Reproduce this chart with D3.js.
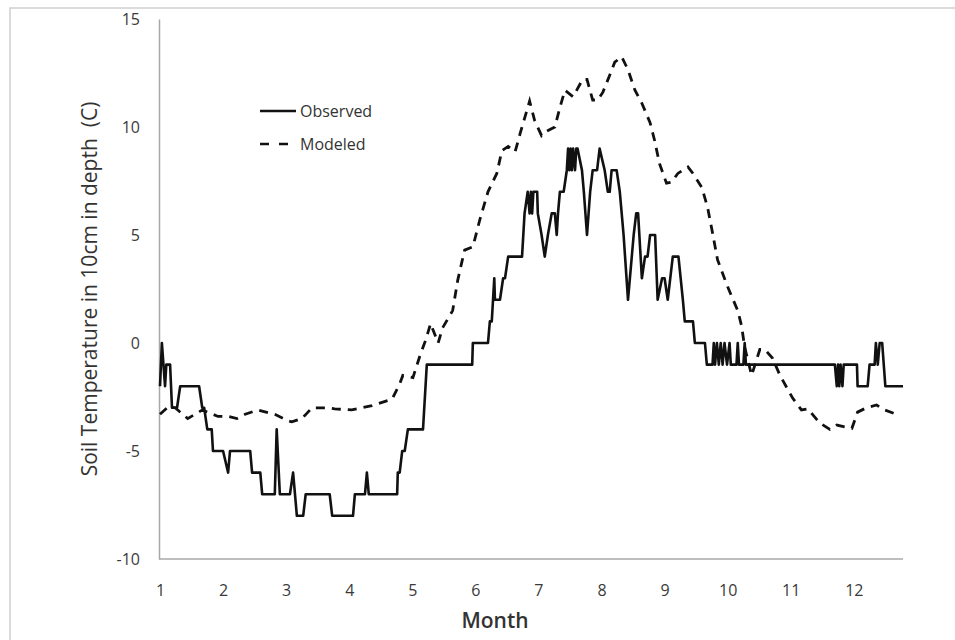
<!DOCTYPE html>
<html>

<head>
    <meta charset="utf-8">
    <script src="https://d3js.org/d3.v7.min.js"></script>
    <style>
        body { margin: 0; background: white; }
        text { font-family: "Open Sans", sans-serif; }
    </style>
</head>

<body>
    <svg width="955" height="640"></svg>

    <script>
    // axis ticks
    var monthTicks = [1, 2, 3, 4, 5, 6, 7, 8, 9, 10, 11, 12];
    var tempTicks = [-10, -5, 0, 5, 10, 15];

    // observed soil temperature (step data, whole degrees)
    var obsMonth = [1.00, 1.03, 1.08, 1.10, 1.16, 1.19, 1.27, 1.32, 1.62, 1.67, 1.70, 1.75, 1.82, 1.84, 2.00, 2.08, 2.11, 2.43,
        2.46, 2.59, 2.62, 2.82, 2.85, 2.90, 3.06, 3.11, 3.14, 3.17, 3.27, 3.31, 3.69, 3.73, 4.06, 4.09, 4.25, 4.28, 4.31,
        4.76, 4.77, 4.80, 4.84, 4.88, 4.93, 5.17, 5.23, 5.95, 5.96, 6.20, 6.23, 6.26, 6.28, 6.30, 6.31, 6.39, 6.44, 6.47,
        6.52, 6.74, 6.78, 6.83, 6.86, 6.88, 6.90, 6.92, 6.98, 6.99, 7.05, 7.10, 7.15, 7.21, 7.26, 7.29, 7.31, 7.34, 7.40,
        7.45, 7.47, 7.49, 7.51, 7.53, 7.55, 7.58, 7.60, 7.62, 7.69, 7.72, 7.77, 7.82, 7.86, 7.93, 7.97, 8.05, 8.10, 8.13,
        8.16, 8.24, 8.29, 8.32, 8.35, 8.42, 8.48, 8.51, 8.55, 8.58, 8.64, 8.69, 8.73, 8.77, 8.85, 8.89, 8.96, 9.00, 9.05,
        9.13, 9.22, 9.29, 9.32, 9.45, 9.48, 9.64, 9.67, 9.76, 9.78, 9.80, 9.83, 9.86, 9.89, 9.92, 9.95, 9.99, 10.03, 10.05,
        10.14, 10.16, 10.18, 10.25, 10.27, 10.29, 11.70, 11.73, 11.75, 11.77, 11.79, 11.82, 11.84, 12.05, 12.06, 12.22,
        12.25, 12.33, 12.35, 12.38, 12.41, 12.45, 12.50, 12.78];
    var obsTemp = [-2, 0, -2, -1, -1, -3, -3, -2, -2, -3, -3, -4, -4, -5, -5, -6, -5, -5,
        -6, -6, -7, -7, -4, -7, -7, -6, -7, -8, -8, -7, -7, -8, -8, -7, -7, -6, -7,
        -7, -6, -6, -5, -5, -4, -4, -1, -1, 0, 0, 1, 1, 2, 3, 2, 2, 3, 3,
        4, 4, 6, 7, 6, 7, 6, 7, 7, 6, 5, 4, 5, 6, 6, 5, 6, 7, 7,
        8, 9, 8, 9, 8, 9, 8, 9, 9, 8, 7, 5, 7, 8, 8, 9, 8, 7, 7,
        8, 8, 7, 6, 5, 2, 4, 5, 6, 6, 3, 4, 4, 5, 5, 2, 3, 3, 2,
        4, 4, 2, 1, 1, 0, 0, -1, -1, 0, -1, 0, -1, 0, -1, 0, -1, 0, -1,
        -1, 0, -1, -1, 0, -1, -1, -2, -1, -2, -1, -2, -1, -1, -2, -2,
        -1, -1, 0, -1, 0, 0, -2, -2];

    // modeled soil temperature
    var modMonth = [1.00, 1.13, 1.24, 1.44, 1.67, 1.92, 2.08, 2.22, 2.35, 2.55, 2.82, 3.03, 3.09, 3.25, 3.41, 3.66, 3.77,
        4.04, 4.36, 4.68, 4.80, 4.85, 5.01, 5.12, 5.22, 5.29, 5.41, 5.48, 5.64, 5.72, 5.79, 5.83, 5.96, 6.07, 6.20, 6.34,
        6.42, 6.52, 6.63, 6.71, 6.82, 6.86, 6.94, 7.05, 7.13, 7.26, 7.34, 7.42, 7.55, 7.70, 7.77, 7.86, 7.94, 8.02, 8.13,
        8.21, 8.32, 8.42, 8.53, 8.64, 8.77, 8.84, 8.92, 9.03, 9.11, 9.21, 9.37, 9.45, 9.59, 9.68, 9.76, 9.84, 10.00, 10.16,
        10.22, 10.27, 10.38, 10.51, 10.59, 10.71, 10.83, 11.03, 11.17, 11.27, 11.46, 11.62, 11.73, 11.89, 11.97, 12.06,
        12.20, 12.36, 12.49, 12.70];
    var modTemp = [-3.3, -2.95, -3.0, -3.5, -3.1, -3.4, -3.4, -3.5, -3.3, -3.1, -3.3, -3.6, -3.65, -3.5, -3.0, -3.0, -3.05,
        -3.1, -2.9, -2.6, -1.9, -1.5, -1.6, -0.6, 0.2, 0.9, 0.0, 0.7, 1.5, 2.9, 3.8, 4.3, 4.45, 5.7, 7.0, 7.85,
        8.9, 9.1, 8.85, 9.7, 10.8, 11.2, 10.3, 9.6, 9.8, 10.0, 10.9, 11.7, 11.4, 12.2, 12.2, 11.25, 11.25, 11.6, 12.4,
        13.0, 13.25, 12.65, 11.7, 11.1, 10.2, 9.4, 8.3, 7.4, 7.45, 7.85, 8.15, 7.85, 7.2, 6.3, 5.1, 3.85, 2.6, 1.5,
        0.8, -0.2, -1.5, -0.3, -0.3, -0.7, -1.5, -2.55, -3.1, -3.05, -3.7, -4.0, -3.8, -3.9, -3.95, -3.2,
        -3.0, -2.87, -3.1, -3.33];

    var seriesNames = ["Observed", "Modeled"];

    var observed = obsMonth.map(function(m, i){ return [m, obsTemp[i]]; });
    var modeled = modMonth.map(function(m, i){ return [m, modTemp[i]]; });

    var mySVG = d3.select("svg");

    // light frame around the figure
    mySVG.append("rect")
        .attr("x", 10).attr("y", 8).attr("width", 960).attr("height", 650)
        .attr("fill", "none").attr("stroke", "#cfcfcf").attr("stroke-width", 1.5);

    var x = d3.scaleLinear().domain([1, 12.78]).range([160, 903]);
    var y = d3.scaleLinear().domain([-10, 15]).range([559, 19]);

    // axes: plain gray lines, no tick marks, plain hyphen for negatives
    var xAxis = mySVG.append("g").attr("transform", "translate(0,559)")
        .call(d3.axisBottom(x).tickValues(monthTicks).tickSize(0).tickPadding(26).tickFormat(function(d){ return String(d); }));
    xAxis.select(".domain").attr("d", "M159,0H903").attr("stroke", "#a8a8a8").attr("stroke-width", 1.5);

    var yAxis = mySVG.append("g").attr("transform", "translate(159,0)")
        .call(d3.axisLeft(y).tickValues(tempTicks).tickSize(0).tickPadding(19).tickFormat(function(d){ return String(d); }));
    yAxis.select(".domain").attr("stroke", "#a8a8a8").attr("stroke-width", 1.5);

    mySVG.selectAll(".tick text")
        .attr("font-size", 16).attr("fill", "#3a3a3a").attr("font-family", "Open Sans, sans-serif");

    // axis titles
    mySVG.append("text")
        .attr("x", 495).attr("y", 628)
        .attr("text-anchor", "middle")
        .attr("font-size", 21).attr("font-weight", 600).attr("fill", "#333")
        .text("Month");

    mySVG.append("text")
        .attr("transform", "translate(97,289) rotate(-90)")
        .attr("text-anchor", "middle")
        .style("white-space", "pre")
        .attr("font-size", 21).attr("fill", "#333")
        .text("Soil Temperature in 10cm in depth  (C)");

    // series lines
    var line = d3.line()
        .x(function(d){ return x(d[0]); })
        .y(function(d){ return y(d[1]); });

    mySVG.append("path").datum(observed)
        .attr("d", line).attr("fill", "none")
        .attr("stroke", "#111").attr("stroke-width", 2.6).attr("stroke-linejoin", "round");

    mySVG.append("path").datum(modeled)
        .attr("d", line).attr("fill", "none")
        .attr("stroke", "#111").attr("stroke-width", 2.8).attr("stroke-dasharray", "9,7");

    // legend
    var legend = mySVG.append("g");
    legend.selectAll("line").data(seriesNames).join("line")
        .attr("x1", 260).attr("x2", 296)
        .attr("y1", function(d, i){ return 111 + i * 33; })
        .attr("y2", function(d, i){ return 111 + i * 33; })
        .attr("stroke", "#111").attr("stroke-width", 2.6)
        .attr("stroke-dasharray", function(d, i){ return i == 0 ? null : "9,10"; });
    legend.selectAll("text").data(seriesNames).join("text")
        .attr("x", 300)
        .attr("y", function(d, i){ return 117 + i * 33; })
        .attr("font-size", 16).attr("fill", "#333")
        .text(function(d){ return d; });
    </script>
</body>

</html>
